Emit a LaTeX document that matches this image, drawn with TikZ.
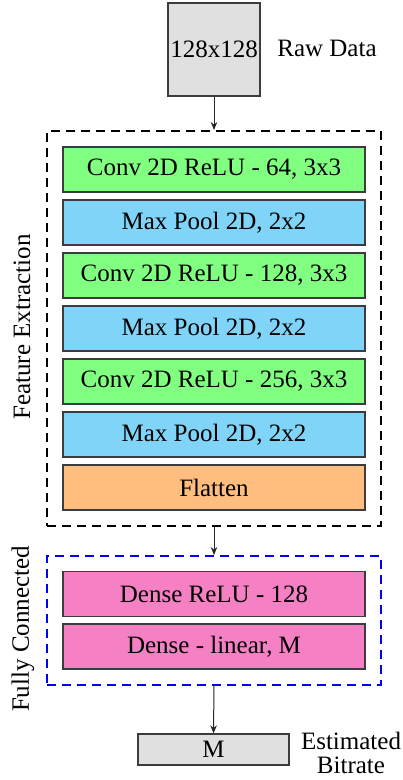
\documentclass[tikz,border=0pt]{standalone}
\usepackage{fontspec}
\setmainfont{Liberation Serif}
\usetikzlibrary{arrows.meta}
\definecolor{convgreen}{RGB}{128,255,128}
\definecolor{poolblue}{RGB}{128,212,248}
\definecolor{flatorange}{RGB}{255,190,128}
\definecolor{densepink}{RGB}{245,128,196}
\definecolor{iogray}{RGB}{224,224,224}
\definecolor{edgegray}{RGB}{60,60,60}
\tikzset{
  layer/.style={draw=edgegray, line width=0.5pt, inner sep=0pt,
    minimum width=120.8pt, minimum height=18pt, font=\fontsize{10}{12}\selectfont},
  conv/.style={layer, fill=convgreen},
  pool/.style={layer, fill=poolblue},
  flat/.style={layer, fill=flatorange},
  dense/.style={layer, fill=densepink},
  iobox/.style={draw=edgegray, line width=0.5pt, fill=iogray, inner sep=0pt,
    font=\fontsize{10}{12}\selectfont},
  group/.style={line width=0.8pt, dash pattern=on 3.6pt off 2.4pt, inner sep=0pt,
    minimum width=133.6pt},
  plain/.style={font=\fontsize{10}{12}\selectfont, inner sep=0pt},
  flow/.style={-{Stealth[length=3.2pt, width=2.6pt]}, line width=0.4pt, black!85},
}
\begin{document}
\begin{tikzpicture}[x=0.4pt, y=-0.4pt]
\useasboundingbox (0,0) rectangle (402,780);

% input
\node[iobox, minimum width=36.8pt, minimum height=37.2pt] (raw) at (214,49.5) {128x128};
\node[plain] (rawlbl) at (327,48) {Raw Data};

% feature extraction group
\node[group, draw=black, minimum height=158pt] (fe) at (214,328.5) {};
\node[plain, rotate=90] (felbl) at (22,327) {Feature Extraction};

\node[conv] (c1) at (214,169.5) {Conv 2D ReLU - 64, 3x3};
\node[pool] (p1) at (214,222.5) {Max Pool 2D, 2x2};
\node[conv] (c2) at (214,275.5) {Conv 2D ReLU - 128, 3x3};
\node[pool] (p2) at (214,328.5) {Max Pool 2D, 2x2};
\node[conv] (c3) at (214,381.5) {Conv 2D ReLU - 256, 3x3};
\node[pool] (p3) at (214,434.5) {Max Pool 2D, 2x2};
\node[flat] (fl) at (214,487.5) {Flatten};

% fully connected group
\node[group, draw=blue, minimum height=51.6pt] (fc) at (214,620.5) {};
\node[plain, rotate=90] (fclbl) at (23,629) {Fully Connected};

\node[dense] (d1) at (214,594) {Dense ReLU - 128};
\node[dense] (d2) at (214,646.5) {Dense - linear, M};

% output
\node[iobox, minimum width=60.4pt, minimum height=12.4pt] (out) at (213.5,749.5) {M};
\node[plain, align=center] (outlbl) at (351,753) {Estimated\\[-2.5pt]Bitrate};

% connectors
\draw[flow] (raw.south) -- (fe.north);
\draw[flow] (fe.south) -- (fc.north);
\draw[flow] (fc.south) -- (out.north);
\end{tikzpicture}
\end{document}
